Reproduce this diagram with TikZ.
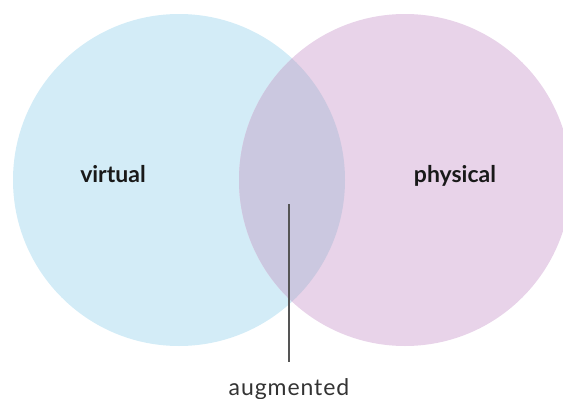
\documentclass[tikz,border=0pt]{standalone}
\usepackage{fontspec}
\setmainfont{Lato}
\definecolor{virtblue}{HTML}{D3ECF7}
\definecolor{physpink}{HTML}{E8D3E9}
\definecolor{augpurple}{HTML}{CBC8E0}
\definecolor{leadgray}{HTML}{555555}
\begin{document}
\begin{tikzpicture}[x=1pt,y=-1pt,
  lbl/.style={font=\fontsize{23}{26}\selectfont\bfseries, text=black!90, anchor=base, inner sep=0pt},
  auglbl/.style={font=\addfontfeatures{LetterSpace=4}\fontsize{23}{26}\selectfont, text=black!80, anchor=base, inner sep=0pt},
  leader/.style={draw=leadgray, line width=1.3pt}]
\useasboundingbox (0,0) rectangle (563,399);
\begin{scope}
\clip (0,0) rectangle (563,399);
\fill[virtblue] (179,180) circle (166);
\fill[physpink] (405,180) circle (166);
\begin{scope}
\clip (179,180) circle (166);
\fill[augpurple] (405,180) circle (166);
\end{scope}
\end{scope}
\node[lbl] (virtual) at (113,182) {virtual};
\node[lbl] (physical) at (455,182) {physical};
\node[auglbl] (aug) at (289,395) {augmented};
\coordinate (top) at (289,204);
\coordinate (bot) at (289,362);
\draw[leader] (top) -- (bot);
\end{tikzpicture}
\end{document}
